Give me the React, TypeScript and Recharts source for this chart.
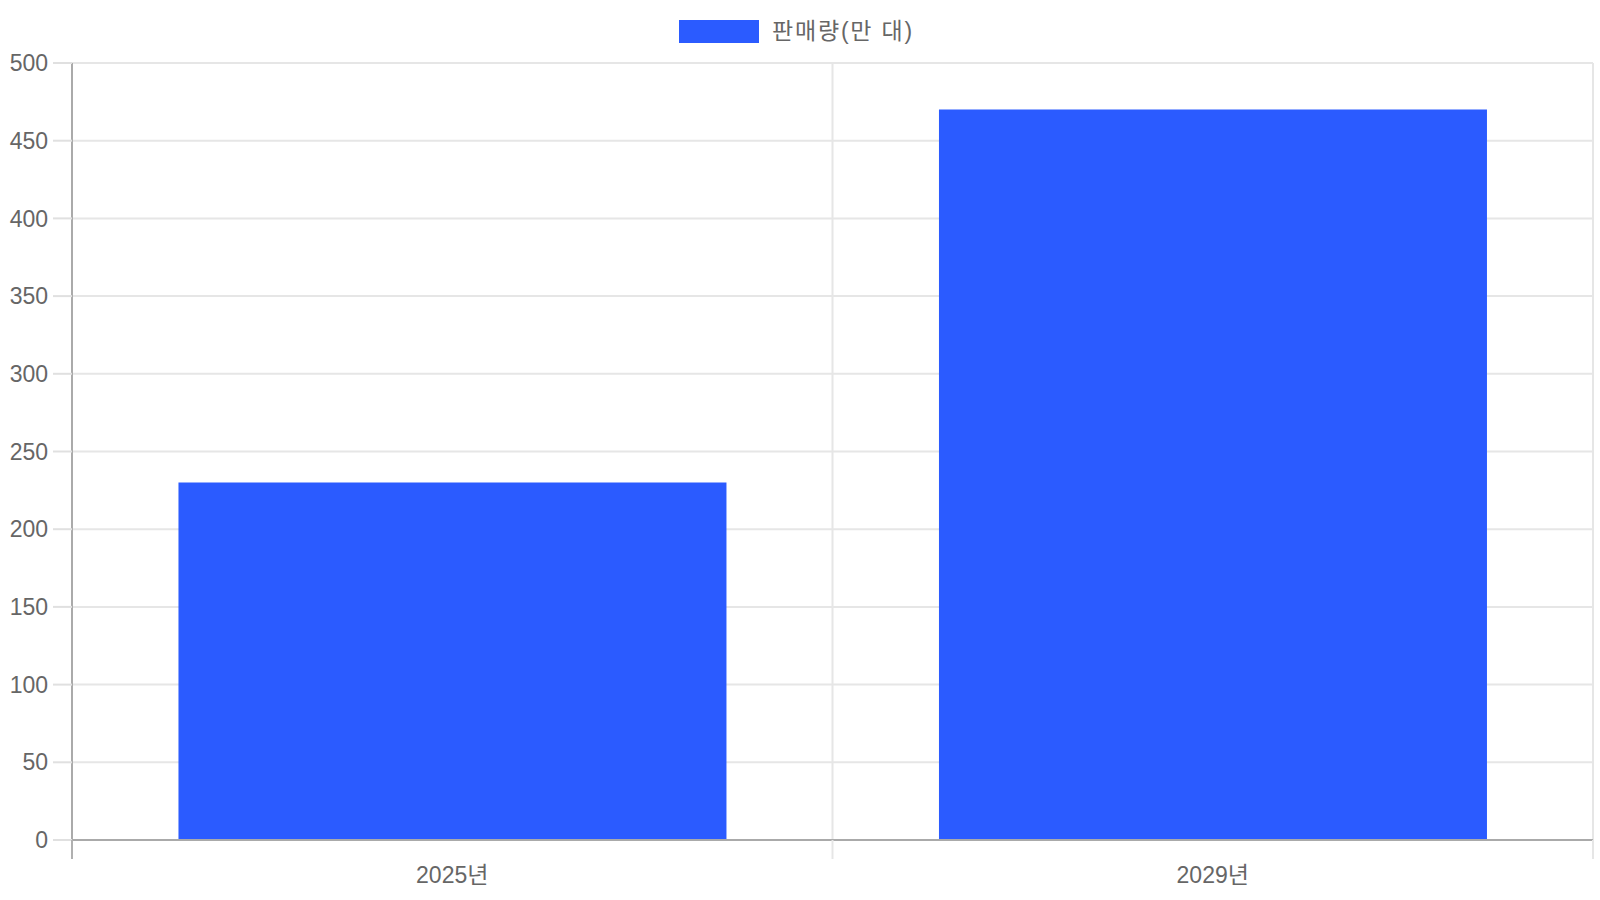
import { JSX } from 'react'
import { BarChart, Bar, XAxis, YAxis, CartesianGrid, Legend } from 'recharts'

// Dados
const categorias = ['2025년', '2029년']
const vendas = [230, 470]
const nomeSerie = '판매량(만 대)'
const ticksY = [0, 50, 100, 150, 200, 250, 300, 350, 400, 450, 500]

const dados = categorias.map((name, i) => ({ name, vendas: vendas[i] }))

const AZUL = '#2B5BFF'
const FONTE = '"Liberation Sans", Arial, "Noto Sans CJK KR", sans-serif'
const COR_GRADE = '#e6e6e6'

function Legenda(): JSX.Element {
  return (
    <div
      style={{
        height: 63,
        boxSizing: 'border-box',
        paddingTop: 20,
        display: 'flex',
        justifyContent: 'center',
        alignItems: 'flex-start',
        fontFamily: FONTE
      }}
    >
      <span style={{ display: 'inline-block', width: 80, height: 23, background: AZUL }} />
      <span style={{ marginLeft: 13, fontSize: 23, lineHeight: '23px', color: '#666', letterSpacing: 1.8 }}>
        {nomeSerie}
      </span>
    </div>
  )
}

// rótulo do eixo X + marcas nas bordas de cada categoria
function TickX(props: any): JSX.Element {
  const { x, y, payload, width, visibleTicksCount, index } = props
  const meia = width / visibleTicksCount / 2
  const ultimo = index === visibleTicksCount - 1
  return (
    <g>
      <line x1={x - meia} x2={x - meia} y1={y} y2={y + 19} stroke={index === 0 ? '#b0b0b0' : COR_GRADE} strokeWidth={2} />
      {ultimo && (
        <line x1={x + meia} x2={x + meia} y1={y} y2={y + 19} stroke={COR_GRADE} strokeWidth={2} />
      )}
      <text x={x} y={y + 27} dy="0.71em" textAnchor="middle" fill="#666" fontSize={23}>
        {payload.value}
      </text>
    </g>
  )
}

export default function App(): JSX.Element {
  return (
    <div style={{ position: 'absolute', left: 0, top: 0, width: 1600, height: 900, background: '#fff' }}>
      <BarChart
        width={1600}
        height={900}
        data={dados}
        margin={{ top: 0, right: 7, bottom: 0, left: 0 }}
        barCategoryGap="14%"
        style={{ fontFamily: FONTE }}
      >
        <CartesianGrid
          stroke={COR_GRADE}
          strokeWidth={2}
          verticalCoordinatesGenerator={({ offset }: any) =>
            [...categorias.map((_, i) => offset.left + (offset.width * i) / categorias.length), offset.left + offset.width]
          }
        />
        <Legend verticalAlign="top" align="center" content={() => <Legenda />} />
        <XAxis
          dataKey="name"
          height={60}
          axisLine={{ stroke: '#aaa', strokeWidth: 2 }}
          tickLine={false}
          tickSize={0}
          tickMargin={0}
          interval={0}
          tick={<TickX />}
        />
        <YAxis
          domain={[0, 500]}
          ticks={ticksY}
          width={72}
          axisLine={{ stroke: '#aaa', strokeWidth: 2 }}
          tickLine={{ stroke: '#e0e0e0', strokeWidth: 2 }}
          tickSize={19}
          tickMargin={5}
          tick={{ fill: '#666', fontSize: 23 }}
        />
        <Bar dataKey="vendas" name={nomeSerie} fill={AZUL} isAnimationActive={false} />
      </BarChart>
    </div>
  )
}
